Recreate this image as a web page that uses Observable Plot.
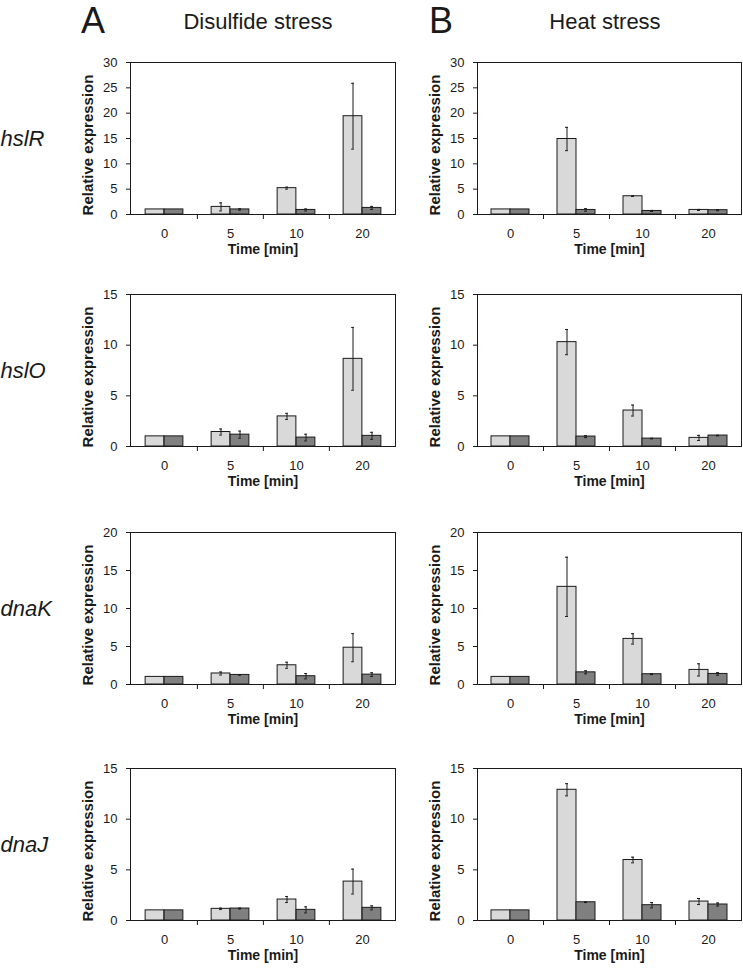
<!DOCTYPE html>
<html>
<head>
<meta charset="utf-8">
<script src="https://cdn.jsdelivr.net/npm/d3@7"></script>
<script src="https://cdn.jsdelivr.net/npm/@observablehq/plot@0.6"></script>
<style>
  html, body { margin: 0; padding: 0; background: #fff; }
  #root { position: relative; width: 743px; height: 968px; overflow: hidden; font-family: 'Liberation Sans', Arial, sans-serif; color: #1a1a1a; }
  .ylab { position: absolute; line-height: 1; white-space: nowrap; font-weight: bold; font-size: 15px; transform: translate(-50%, -50%) rotate(-90deg); }
  #titles { position: absolute; left: 0; top: 0; }
</style>
</head>
<body>
<div id="root"></div>
<script>
// ---------- data ----------
const times = ["0", "5", "10", "20"];
const genes = ["hslR", "hslO", "dnaK", "dnaJ"];
const panelLetters = ["A", "B"];
const conditions = ["Disulfide stress", "Heat stress"];
const yMaxByGene = [30, 15, 20, 15];
const yTickStep = 5;
const xLabel = "Time [min]";
const yLabel = "Relative expression";

// light grey bars / dark grey bars, with error (half-range) values
const hslR_disulfide_light = [1.0, 1.5, 5.2, 19.4];
const hslR_disulfide_lightErr = [0, 0.8, 0.2, 6.5];
const hslR_disulfide_dark = [1.0, 1.0, 0.9, 1.3];
const hslR_disulfide_darkErr = [0, 0.15, 0.2, 0.3];

const hslR_heat_light = [1.0, 14.9, 3.6, 0.9];
const hslR_heat_lightErr = [0, 2.3, 0.05, 0.1];
const hslR_heat_dark = [1.0, 0.9, 0.7, 0.85];
const hslR_heat_darkErr = [0, 0.25, 0.1, 0.1];

const hslO_disulfide_light = [1.0, 1.43, 2.97, 8.65];
const hslO_disulfide_lightErr = [0, 0.3, 0.3, 3.1];
const hslO_disulfide_dark = [1.0, 1.17, 0.88, 1.05];
const hslO_disulfide_darkErr = [0, 0.35, 0.33, 0.35];

const hslO_heat_light = [1.0, 10.3, 3.55, 0.85];
const hslO_heat_lightErr = [0, 1.24, 0.54, 0.25];
const hslO_heat_dark = [1.0, 0.98, 0.78, 1.08];
const hslO_heat_darkErr = [0, 0.1, 0.03, 0.03];

const dnaK_disulfide_light = [1.0, 1.45, 2.53, 4.84];
const dnaK_disulfide_lightErr = [0, 0.2, 0.4, 1.85];
const dnaK_disulfide_dark = [1.0, 1.26, 1.09, 1.3];
const dnaK_disulfide_darkErr = [0, 0.05, 0.35, 0.25];

const dnaK_heat_light = [1.0, 12.85, 6.0, 1.92];
const dnaK_heat_lightErr = [0, 3.9, 0.68, 0.8];
const dnaK_heat_dark = [1.0, 1.6, 1.35, 1.39];
const dnaK_heat_darkErr = [0, 0.2, 0.05, 0.17];

const dnaJ_disulfide_light = [1.0, 1.15, 2.07, 3.84];
const dnaJ_disulfide_lightErr = [0, 0.07, 0.3, 1.23];
const dnaJ_disulfide_dark = [1.0, 1.18, 1.05, 1.25];
const dnaJ_disulfide_darkErr = [0, 0.05, 0.3, 0.2];

const dnaJ_heat_light = [1.0, 12.9, 5.97, 1.87];
const dnaJ_heat_lightErr = [0, 0.6, 0.28, 0.3];
const dnaJ_heat_dark = [1.0, 1.8, 1.51, 1.58];
const dnaJ_heat_darkErr = [0, 0.03, 0.26, 0.15];

const seriesTable = {
  hslR: [[hslR_disulfide_light, hslR_disulfide_lightErr, hslR_disulfide_dark, hslR_disulfide_darkErr],
         [hslR_heat_light, hslR_heat_lightErr, hslR_heat_dark, hslR_heat_darkErr]],
  hslO: [[hslO_disulfide_light, hslO_disulfide_lightErr, hslO_disulfide_dark, hslO_disulfide_darkErr],
         [hslO_heat_light, hslO_heat_lightErr, hslO_heat_dark, hslO_heat_darkErr]],
  dnaK: [[dnaK_disulfide_light, dnaK_disulfide_lightErr, dnaK_disulfide_dark, dnaK_disulfide_darkErr],
         [dnaK_heat_light, dnaK_heat_lightErr, dnaK_heat_dark, dnaK_heat_darkErr]],
  dnaJ: [[dnaJ_disulfide_light, dnaJ_disulfide_lightErr, dnaJ_disulfide_dark, dnaJ_disulfide_darkErr],
         [dnaJ_heat_light, dnaJ_heat_lightErr, dnaJ_heat_dark, dnaJ_heat_darkErr]]
};

// ---------- layout ----------
const root = document.getElementById("root");
const FONT = "'Liberation Sans', Arial, sans-serif";
const LIGHT = "#d9d9d9", DARK = "#808080", INK = "#1a1a1a";
const rowTops = [62, 294, 532, 768];
const plotH = 152;
const MT = 10, MB = 50;
const colLayout = [
  {left: 0, width: 400, ml: 130, mr: 5},
  {left: 400, width: 343, ml: 77, mr: 2}
];

// column titles (SVG text, baseline positioned)
const ns = "http://www.w3.org/2000/svg";
const tsvg = document.createElementNS(ns, "svg");
tsvg.setAttribute("id", "titles");
tsvg.setAttribute("width", 743);
tsvg.setAttribute("height", 45);
function addTitle(text, x, y, size, anchor) {
  const t = document.createElementNS(ns, "text");
  t.setAttribute("x", x);
  t.setAttribute("y", y);
  t.setAttribute("font-size", size);
  t.setAttribute("font-family", FONT);
  t.setAttribute("fill", INK);
  t.setAttribute("text-anchor", anchor);
  t.textContent = text;
  tsvg.appendChild(t);
}
addTitle(panelLetters[0], 81, 33, 36, "start");
addTitle(conditions[0], 258, 29, 22, "middle");
addTitle(panelLetters[1], 429, 33, 36, "start");
addTitle(conditions[1], 605, 29, 22, "middle");
root.appendChild(tsvg);

function panel(gi, ci) {
  const gene = genes[gi];
  const [light, lightErr, dark, darkErr] = seriesTable[gene][ci];
  const rows = times.map((t, i) => ({time: t, light: light[i], lightErr: lightErr[i], dark: dark[i], darkErr: darkErr[i]}));
  const L = colLayout[ci];
  const plotW = L.width - L.ml - L.mr;
  const bw = plotW / times.length;
  const barW = 19;
  const gap = (bw - 2 * barW) / 2;
  const capHalf = 1.5;
  const lc = gap + barW / 2, dc = gap + barW * 1.5; // bar centres within band
  const ymax = yMaxByGene[gi];
  const errL = rows.filter(d => d.lightErr > 0);
  const errD = rows.filter(d => d.darkErr > 0);

  const marks = [
    Plot.frame({stroke: INK, strokeWidth: 1}),
    Plot.barY(rows, {x: "time", y: "light", fill: LIGHT, stroke: INK, strokeWidth: 1, insetLeft: gap, insetRight: gap + barW}),
    Plot.barY(rows, {x: "time", y: "dark", fill: DARK, stroke: INK, strokeWidth: 1, insetLeft: gap + barW, insetRight: gap}),
    Plot.ruleX(errL, {x: "time", y1: d => d.light - d.lightErr, y2: d => d.light + d.lightErr, dx: lc - bw / 2, stroke: INK}),
    Plot.ruleX(errD, {x: "time", y1: d => d.dark - d.darkErr, y2: d => d.dark + d.darkErr, dx: dc - bw / 2, stroke: INK}),
    Plot.tickY(errL, {x: "time", y: d => d.light + d.lightErr, insetLeft: lc - capHalf, insetRight: bw - lc - capHalf, stroke: INK}),
    Plot.tickY(errL, {x: "time", y: d => d.light - d.lightErr, insetLeft: lc - capHalf, insetRight: bw - lc - capHalf, stroke: INK}),
    Plot.tickY(errD, {x: "time", y: d => d.dark + d.darkErr, insetLeft: dc - capHalf, insetRight: bw - dc - capHalf, stroke: INK}),
    Plot.tickY(errD, {x: "time", y: d => d.dark - d.darkErr, insetLeft: dc - capHalf, insetRight: bw - dc - capHalf, stroke: INK}),
    // category boundary ticks below the axis
    Plot.ruleX(times.slice(1), {x: d => d, dx: -bw / 2, insetTop: plotH, insetBottom: -5, stroke: INK}),
    Plot.axisY({ticks: d3.range(0, ymax + 1, yTickStep), tickSize: 4, tickPadding: 9, fontSize: 13, label: null, stroke: INK}),
    Plot.axisX({tickSize: 0, tickPadding: 14, fontSize: 13, label: null}),
    Plot.text([xLabel], {text: d => d, frameAnchor: "bottom", dy: 39, fontWeight: "bold", fontSize: 14, fill: INK})
  ];
  if (ci === 0) {
    marks.push(Plot.text([gene], {text: d => d, frameAnchor: "left", textAnchor: "start", dx: -L.ml, fontStyle: "italic", fontSize: 22, fill: INK}));
  }

  const svg = Plot.plot({
    width: L.width,
    height: MT + plotH + MB,
    marginLeft: L.ml,
    marginRight: L.mr,
    marginTop: MT,
    marginBottom: MB,
    style: {fontFamily: FONT, fontSize: "13px", color: INK, background: "transparent", overflow: "visible"},
    x: {type: "band", domain: times, padding: 0, label: null},
    y: {domain: [0, ymax], label: null},
    marks
  });
  const wrap = document.createElement("div");
  wrap.style.position = "absolute";
  wrap.style.left = L.left + "px";
  wrap.style.top = (rowTops[gi] - MT) + "px";
  wrap.appendChild(svg);
  root.appendChild(wrap);

  // rotated y-axis title
  const yl = document.createElement("div");
  yl.className = "ylab";
  yl.textContent = yLabel;
  yl.style.left = (L.left + L.ml - 43) + "px";
  yl.style.top = (rowTops[gi] + plotH / 2 + 7) + "px";
  root.appendChild(yl);
}

genes.forEach((g, gi) => conditions.forEach((c, ci) => panel(gi, ci)));
</script>
</body>
</html>
